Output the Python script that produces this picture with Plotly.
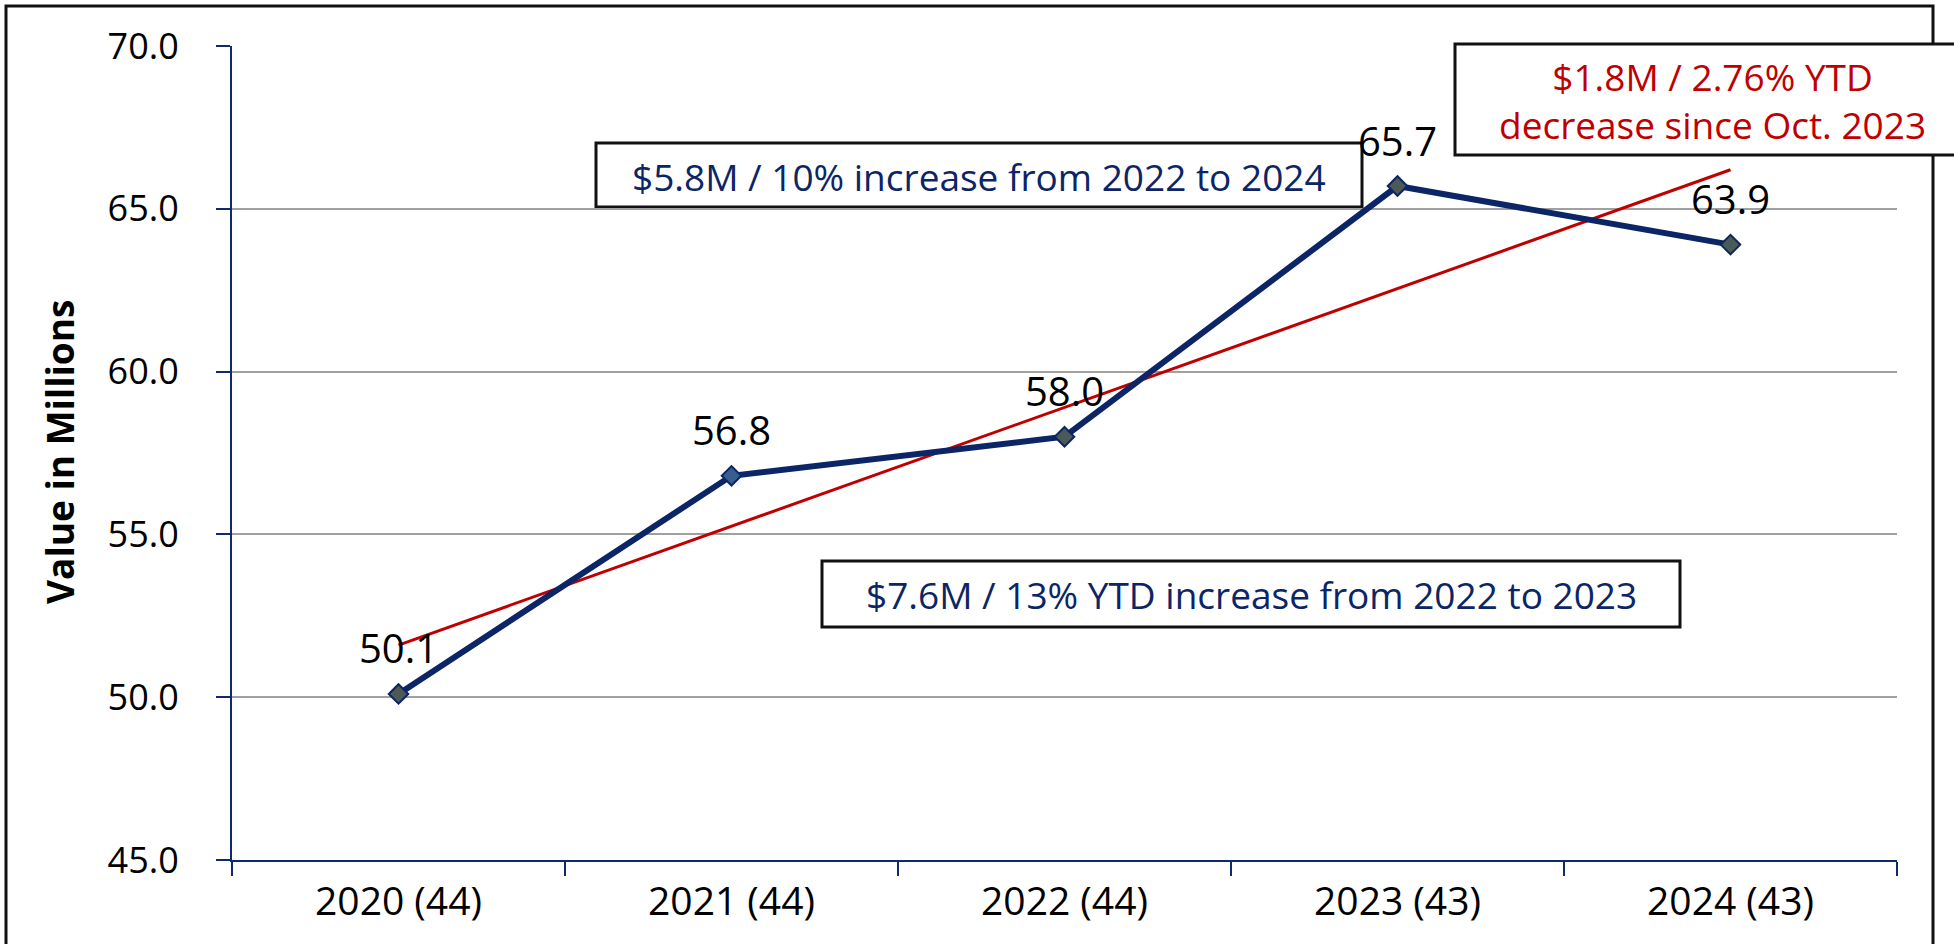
import plotly.graph_objects as go

# ---- data ----
categories = ["2020 (44)", "2021 (44)", "2022 (44)", "2023 (43)", "2024 (43)"]
values = [50.1, 56.8, 58.0, 65.7, 63.9]
trend_x = ["2020 (44)", "2024 (43)"]
trend_values = [51.6, 66.2]
y_ticks = [45, 50, 55, 60, 65, 70]

note_blue_1 = "$5.8M / 10% increase from 2022 to 2024"
note_blue_2 = "$7.6M / 13% YTD increase from 2022 to 2023"
note_red = "$1.8M / 2.76% YTD<br>decrease since Oct. 2023"
y_title = "<b>Value in Millions</b>"

# ---- layout geometry (page pixels) ----
W, H = 1954, 944
PL, PR, PT, PB = 232, 1897, 46, 860   # plot area


def px(x):
    return (x - PL) / (PR - PL)


def py(y):
    return (PB - y) / (PB - PT)


FONT = "Open Sans"
NAVY = "#0B2566"
AXIS = "#0E2A6E"
RED = "#C00000"
MARKER_FILLS = ["#4B5A57", "#365F91", "#4B5A57", "#4B5A57", "#4B5A57"]

fig = go.Figure()

fig.add_trace(go.Scatter(
    x=trend_x, y=trend_values, mode="lines",
    line=dict(color=RED, width=3), hoverinfo="skip", showlegend=False,
))
fig.add_trace(go.Scatter(
    x=categories, y=values, mode="lines+markers",
    line=dict(color=NAVY, width=6),
    marker=dict(symbol="diamond", size=15, color=MARKER_FILLS,
                line=dict(color=NAVY, width=2)),
    showlegend=False,
))

annotations = []
for c, v in zip(categories, values):
    annotations.append(dict(
        x=c, y=v, xref="x", yref="y", text=f"{v:.1f}", showarrow=False,
        yshift=46, font=dict(family=FONT, size=40, color="black"),
    ))

common = dict(xref="paper", yref="paper", showarrow=False,
              xanchor="center", yanchor="middle")
annotations.append(dict(
    x=px(979), y=py(176), text=note_blue_1,
    font=dict(family=FONT, size=37, color=NAVY), **common,
))
annotations.append(dict(
    x=px(1251), y=py(594), text=note_blue_2,
    font=dict(family=FONT, size=37, color=NAVY), **common,
))
annotations.append(dict(
    x=px(1712), y=py(100), text=note_red,
    font=dict(family=FONT, size=37, color=RED), **common,
))
annotations.append(dict(
    x=px(60), y=py(452), text=y_title, textangle=-90,
    font=dict(family=FONT, size=37, color="black"), **common,
))

shapes = [
    # outer frame
    dict(type="rect", xref="paper", yref="paper",
         x0=px(6), x1=px(1933), y0=py(6), y1=py(970),
         line=dict(color="#111111", width=3), fillcolor="rgba(0,0,0,0)", layer="below"),
    # note boxes
    dict(type="rect", xref="paper", yref="paper",
         x0=px(596), x1=px(1362), y0=py(143), y1=py(207),
         line=dict(color="#111111", width=3), fillcolor="white", layer="below"),
    dict(type="rect", xref="paper", yref="paper",
         x0=px(822), x1=px(1680), y0=py(561), y1=py(627),
         line=dict(color="#111111", width=3), fillcolor="white", layer="below"),
    dict(type="rect", xref="paper", yref="paper",
         x0=px(1455), x1=px(1985), y0=py(44), y1=py(155),
         line=dict(color="#111111", width=3), fillcolor="white", layer="below"),
]

fig.update_layout(
    width=W, height=H,
    margin=dict(l=PL, r=W - PR, t=PT, b=H - PB, autoexpand=False),
    paper_bgcolor="white", plot_bgcolor="rgba(0,0,0,0)",
    font=dict(family=FONT, color="black"),
    annotations=annotations, shapes=shapes,
    xaxis=dict(
        type="category", categoryorder="array", categoryarray=categories,
        range=[-0.5, 4.5], showgrid=False, showline=True,
        linecolor=AXIS, linewidth=2, ticks="outside", tickson="boundaries",
        ticklen=14, tickwidth=2, tickcolor=AXIS, ticklabelstandoff=6,
        tickfont=dict(family=FONT, size=39, color="black"), zeroline=False,
    ),
    yaxis=dict(
        range=[45, 70], tickvals=y_ticks, tickformat=".1f",
        showgrid=True, gridcolor="#A0A0A0", gridwidth=2,
        showline=True, linecolor=AXIS, linewidth=2,
        ticks="outside", ticklen=14, tickwidth=2, tickcolor=AXIS,
        ticklabelstandoff=30,
        tickfont=dict(family=FONT, size=36, color="black"), zeroline=False,
    ),
)

fig.write_html(
    "out.html",
    config={"displayModeBar": False},
    post_script="document.body.style.margin='0';document.body.style.overflow='hidden';",
)
